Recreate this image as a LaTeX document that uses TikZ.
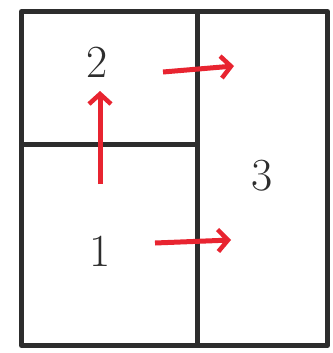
\documentclass[tikz,border=0pt]{standalone}
\usetikzlibrary{arrows.meta}
\definecolor{pen}{RGB}{45,45,45}
\definecolor{redpen}{RGB}{232,36,48}
\begin{document}
\begin{tikzpicture}[x=1pt,y=-1pt,
  cell/.style={draw=pen,line width=5pt,line join=round,inner sep=0pt,anchor=north west},
  lbl/.style={font=\fontsize{46}{48}\selectfont,text=pen},
  flow/.style={draw=redpen,line width=5pt,-{Straight Barb[length=10pt,width=22pt,line width=4.5pt]}}]
\useasboundingbox (0,0) rectangle (332,353);
\fill[white] (0,0) rectangle (332,353);
\node[cell,minimum width=176pt,minimum height=133pt] (c2) at (19,9) {};
\node[cell,minimum width=176pt,minimum height=201pt] (c1) at (19,142) {};
\node[cell,minimum width=130pt,minimum height=334pt] (c3) at (195,9) {};
\node[lbl] (n2) at (97,62) {2};
\node[lbl] (n1) at (100,251) {1};
\node[lbl] (n3) at (262,176) {3};
\coordinate (u0) at (100,184);
\coordinate (u1) at (100,91);
\coordinate (a0) at (163,72);
\coordinate (a1) at (234,66);
\coordinate (b0) at (155,243);
\coordinate (b1) at (231,240);
\draw[flow] (u0) -- (u1);
\draw[flow] (a0) -- (a1);
\draw[flow] (b0) -- (b1);
\end{tikzpicture}
\end{document}
